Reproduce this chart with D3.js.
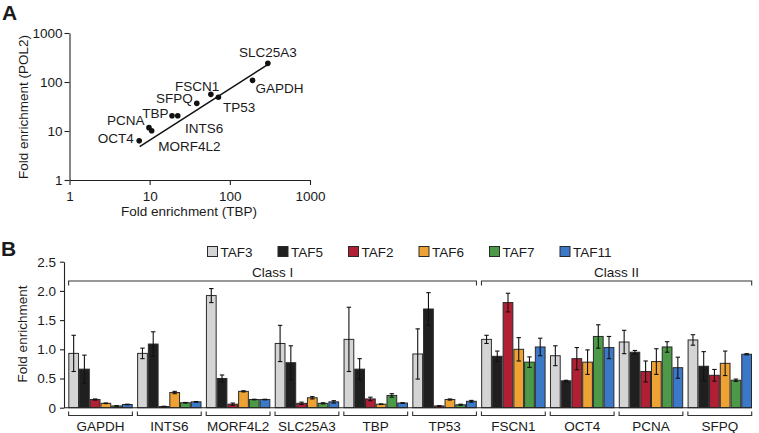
<!DOCTYPE html>
<html><head><meta charset="utf-8">
<script src="https://cdn.jsdelivr.net/npm/d3@7"></script>
<style>
body{margin:0;background:#fff;}
svg{display:block;}
text{font-family:"Liberation Sans",Arial,Helvetica,sans-serif;fill:#1a1a1a;}
</style></head>
<body>
<svg id="chart" width="759" height="433"></svg>
<script>
// ---------- Panel A data ----------
const scatterGenes = ["SLC25A3","GAPDH","TP53","FSCN1","SFPQ","TBP","INTS6","PCNA","MORF4L2","OCT4"];
const tbpEnrich  = [298, 192, 72, 58, 38.7, 19, 22.4, 9.8, 10.6, 7.4];
const pol2Enrich = [240, 108, 49, 56, 36.7, 20.5, 20.5, 11.7, 10.1, 6.3];
const fitX = [7.5, 290];
const fitY = [4.8, 222];
const logTicks = [1, 10, 100, 1000];

// ---------- Panel B data ----------
const genes = ["GAPDH","INTS6","MORF4L2","SLC25A3","TBP","TP53","FSCN1","OCT4","PCNA","SFPQ"];
const seriesNames = ["TAF3","TAF5","TAF2","TAF6","TAF7","TAF11"];
const taf3  = [0.93, 0.93, 1.92, 1.10, 1.17, 0.92, 1.17, 0.89, 1.125, 1.16];
const taf5  = [0.66, 1.09, 0.50, 0.77, 0.66, 1.69, 0.88, 0.46, 0.95, 0.71];
const taf2  = [0.14, 0.02, 0.06, 0.075, 0.15, 0.03, 1.80, 0.84, 0.62, 0.555];
const taf6  = [0.075, 0.26, 0.28, 0.17, 0.06, 0.14, 1.00, 0.78, 0.79, 0.76];
const taf7  = [0.03, 0.085, 0.14, 0.075, 0.21, 0.05, 0.78, 1.22, 1.04, 0.47];
const taf11 = [0.055, 0.10, 0.14, 0.10, 0.08, 0.11, 1.04, 1.03, 0.685, 0.915];
const taf3Err  = [0.31, 0.09, 0.12, 0.31, 0.55, 0.43, 0.07, 0.17, 0.20, 0.09];
const taf5Err  = [0.24, 0.21, 0.06, 0.29, 0.18, 0.28, 0.09, 0.01, 0.03, 0.25];
const taf2Err  = [0.01, 0.005, 0.02, 0.02, 0.03, 0.005, 0.16, 0.19, 0.18, 0.10];
const taf6Err  = [0.005, 0.02, 0.01, 0.02, 0.005, 0.01, 0.20, 0.21, 0.22, 0.21];
const taf7Err  = [0.005, 0.005, 0.005, 0.01, 0.03, 0.01, 0.09, 0.20, 0.09, 0.02];
const taf11Err = [0.005, 0.005, 0.005, 0.02, 0.005, 0.015, 0.15, 0.19, 0.18, 0.01];
const classNames = ["Class I", "Class II"];
const classGroups = [["GAPDH","TP53"], ["FSCN1","SFPQ"]];
const yTicksB = [0, 0.5, 1.0, 1.5, 2.0, 2.5];

// ---------- styles ----------
const colors = ["#d4d4d4", "#1f1f1f", "#b01f33", "#efa234", "#4c9a47", "#3b78c8"];
const labelPos = { // anchor, dx, dy relative to point
  SLC25A3:["middle",0,-6], GAPDH:["start",3,13], TP53:["start",4.5,14.5],
  FSCN1:["end",8.5,-3], SFPQ:["end",-4,0], TBP:["end",-3.5,2.5],
  INTS6:["start",7.3,17], PCNA:["end",-4.5,-2.7], MORF4L2:["start",6.6,20],
  OCT4:["end",-5.3,2.5]
};

const svg = d3.select("#chart");
const FS = 13.5;

// ================= Panel A =================
const gA = svg.append("g");
gA.append("text").attr("x", 2).attr("y", 19.5).attr("font-size", 21).attr("font-weight", "bold").text("A");

const xA = d3.scaleLog().domain([1, 1000]).range([69.5, 310]);
const yA = d3.scaleLog().domain([1, 1000]).range([180, 33]);

const axXA = gA.append("g").attr("transform", "translate(0,180)")
  .call(d3.axisBottom(xA).tickValues(logTicks).tickFormat(d3.format("d")).tickSize(5).tickSizeOuter(0));
const axYA = gA.append("g").attr("transform", "translate(69.5,0)")
  .call(d3.axisLeft(yA).tickValues(logTicks).tickFormat(d3.format("d")).tickSize(5).tickSizeOuter(0));
[axXA, axYA].forEach(a => {
  a.selectAll("path,line").attr("stroke", "#222").attr("stroke-width", 1.1);
  a.selectAll("text").attr("font-size", FS).attr("fill", "#1a1a1a")
    .style("font-family", '"Liberation Sans",Arial,sans-serif');
});
axXA.selectAll("text").attr("dy", "0.95em");
axYA.selectAll("text").attr("x", -7);

gA.append("text").attr("x", 189).attr("y", 215.5).attr("text-anchor", "middle").attr("font-size", FS)
  .text("Fold enrichment (TBP)");
gA.append("text").attr("transform", "translate(28,107) rotate(-90)").attr("text-anchor", "middle")
  .attr("font-size", FS).text("Fold enrichment (POL2)");

gA.append("line")
  .attr("x1", xA(fitX[0])).attr("y1", yA(fitY[0]))
  .attr("x2", xA(fitX[1])).attr("y2", yA(fitY[1]))
  .attr("stroke", "#111").attr("stroke-width", 1.5);

const pts = scatterGenes.map((g, i) => ({g, x: tbpEnrich[i], y: pol2Enrich[i]}));
gA.selectAll("circle.pt").data(pts).join("circle").attr("class", "pt")
  .attr("cx", d => xA(d.x)).attr("cy", d => yA(d.y)).attr("r", 2.8).attr("fill", "#111");
gA.selectAll("text.lbl").data(pts).join("text").attr("class", "lbl")
  .attr("x", d => xA(d.x) + labelPos[d.g][1])
  .attr("y", d => yA(d.y) + labelPos[d.g][2])
  .attr("text-anchor", d => labelPos[d.g][0])
  .attr("font-size", FS).text(d => d.g);

// ================= Panel B =================
const gB = svg.append("g");
gB.append("text").attr("x", 1).attr("y", 255.5).attr("font-size", 21).attr("font-weight", "bold").text("B");

const x0 = d3.scaleBand().domain(genes).range([68.3, 752]).paddingInner(0.064).paddingOuter(0);
const x1 = d3.scaleBand().domain(seriesNames).range([0, x0.bandwidth()]).padding(0);
const yB = d3.scaleLinear().domain([0, 2.5]).range([407.7, 261.7]);

const seriesVals = [taf3, taf5, taf2, taf6, taf7, taf11];
const seriesErrs = [taf3Err, taf5Err, taf2Err, taf6Err, taf7Err, taf11Err];
const bars = [];
genes.forEach((g, gi) => seriesNames.forEach((s, si) =>
  bars.push({g, s, si, v: seriesVals[si][gi], e: seriesErrs[si][gi]})));

// y axis
const axYB = gB.append("g").attr("transform", "translate(64,0)")
  .call(d3.axisLeft(yB).tickValues(yTicksB).tickFormat(d => d === 0 ? "0" : d3.format(".1f")(d)).tickSize(4).tickSizeOuter(0));
axYB.selectAll("path,line").attr("stroke", "#222").attr("stroke-width", 1.1);
axYB.selectAll("text").attr("font-size", FS).attr("fill", "#1a1a1a").attr("x", -8)
  .style("font-family", '"Liberation Sans",Arial,sans-serif');
gB.append("text").attr("transform", "translate(27,334) rotate(-90)").attr("text-anchor", "middle")
  .attr("font-size", FS).text("Fold enrichment");

// bars
gB.selectAll("rect.bar").data(bars).join("rect").attr("class", "bar")
  .attr("x", d => x0(d.g) + x1(d.s) + 0.5)
  .attr("y", d => yB(d.v))
  .attr("width", x1.bandwidth() - 1)
  .attr("height", d => yB(0) - yB(d.v))
  .attr("fill", d => colors[d.si]).attr("stroke", "#2a2a2a").attr("stroke-width", 1);

// error bars
const eg = gB.append("g").attr("stroke", "#111").attr("stroke-width", 1.1);
bars.forEach(d => {
  const cx = x0(d.g) + x1(d.s) + x1.bandwidth() / 2;
  const lo = Math.max(0, d.v - d.e), hi = d.v + d.e;
  eg.append("line").attr("x1", cx).attr("x2", cx).attr("y1", yB(lo)).attr("y2", yB(hi));
  eg.append("line").attr("x1", cx - 2.2).attr("x2", cx + 2.2).attr("y1", yB(hi)).attr("y2", yB(hi));
  eg.append("line").attr("x1", cx - 2.2).attr("x2", cx + 2.2).attr("y1", yB(lo)).attr("y2", yB(lo));
});

// x axis baseline
gB.append("line").attr("x1", 64).attr("x2", 752).attr("y1", yB(0)).attr("y2", yB(0))
  .attr("stroke", "#222").attr("stroke-width", 1.1);

// gene brackets and labels
const gBr = gB.append("g").attr("stroke", "#333").attr("stroke-width", 1.1).attr("fill", "none");
genes.forEach(g => {
  const a = x0(g) + 0.3, b = x0(g) + x0.bandwidth() - 0.3;
  gBr.append("path").attr("d", `M${a},411.5V415.5H${b}V411.5`);
});
gB.selectAll("text.gene").data(genes).join("text").attr("class", "gene")
  .attr("x", g => x0(g) + x0.bandwidth() / 2).attr("y", 431)
  .attr("text-anchor", "middle").attr("font-size", FS).text(g => g);

// class brackets
classNames.forEach((c, i) => {
  const a = x0(classGroups[i][0]) + 0.3, b = x0(classGroups[i][1]) + x0.bandwidth() - 0.3;
  gB.append("path").attr("d", `M${a},285.5V281H${b}V285.5`)
    .attr("stroke", "#333").attr("stroke-width", 1.1).attr("fill", "none");
  gB.append("text").attr("x", (a + b) / 2).attr("y", 276.5).attr("text-anchor", "middle")
    .attr("font-size", FS).text(c);
});

// legend
const lg = gB.append("g");
seriesNames.forEach((s, i) => {
  const lx = 207.5 + i * 70.5;
  lg.append("rect").attr("x", lx).attr("y", 246.5).attr("width", 10).attr("height", 10)
    .attr("fill", colors[i]).attr("stroke", "#2a2a2a").attr("stroke-width", 1);
  lg.append("text").attr("x", lx + 13).attr("y", 256.5).attr("font-size", FS).text(s);
});
</script>
</body></html>
